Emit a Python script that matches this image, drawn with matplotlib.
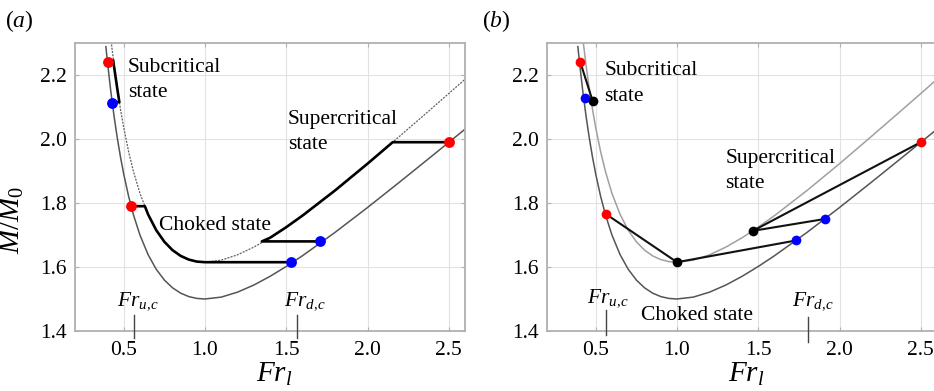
import matplotlib
matplotlib.use("Agg")
import matplotlib.pyplot as plt

plt.rcParams['font.family'] = ['Liberation Serif', 'DejaVu Serif']
plt.rcParams['mathtext.fontset'] = 'custom'
plt.rcParams['mathtext.rm'] = 'Liberation Serif'
plt.rcParams['mathtext.it'] = 'Liberation Serif:italic'
plt.rcParams['mathtext.bf'] = 'Liberation Serif:bold'

# ---- data ----
lower_x = [0.39, 0.40, 0.42, 0.44, 0.46, 0.48, 0.50, 0.53, 0.56, 0.60, 0.65, 0.70, 0.75,
           0.80, 0.85, 0.90, 0.95, 1.00, 1.10, 1.20, 1.30, 1.40, 1.50, 1.60, 1.80, 2.00,
           2.20, 2.40, 2.60]
lower_y = [2.2886, 2.2394, 2.1505, 2.0726, 2.0040, 1.9435, 1.8899, 1.8207, 1.7627, 1.6994,
           1.6384, 1.5928, 1.5592, 1.5350, 1.5183, 1.5076, 1.5018, 1.5000, 1.5059, 1.5214,
           1.5435, 1.5707, 1.6016, 1.6352, 1.7081, 1.7858, 1.8664, 1.9483, 2.0307]
upper_x = [0.42, 0.44, 0.46, 0.48, 0.50, 0.53, 0.56, 0.60, 0.65, 0.70, 0.75, 0.80, 0.85,
           0.90, 0.95, 1.00, 1.10, 1.20, 1.30, 1.40, 1.50, 1.60, 1.80, 2.00, 2.20, 2.40, 2.60]
upper_y = [2.3154, 2.2316, 2.1577, 2.0926, 2.0349, 1.9603, 1.8979, 1.8297, 1.7641, 1.7150,
           1.6788, 1.6527, 1.6348, 1.6232, 1.6169, 1.6150, 1.6214, 1.6381, 1.6619, 1.6912,
           1.7244, 1.7606, 1.8391, 1.9228, 2.0096, 2.0977, 2.1865]

# panel (a) state paths
sub_a_x = [0.435, 0.46, 0.473, 0.43]
sub_a_y = [2.245, 2.1577, 2.115, 2.115]
chk_a_x = [0.545, 0.63, 0.65, 0.70, 0.75, 0.80, 0.85, 0.90, 0.95, 1.00, 1.53]
chk_a_y = [1.79, 1.79, 1.7641, 1.7150, 1.6788, 1.6527, 1.6348, 1.6232, 1.6169, 1.615, 1.615]
sup_a_x = [1.71, 1.35, 1.40, 1.50, 1.60, 1.80, 2.00, 2.155, 2.50]
sup_a_y = [1.68, 1.68, 1.6912, 1.7244, 1.7606, 1.8391, 1.9228, 1.99, 1.99]
red_a_x = [0.40, 0.545, 2.50]
red_a_y = [2.24, 1.79, 1.99]
blue_a_x = [0.43, 1.53, 1.71]
blue_a_y = [2.113, 1.615, 1.68]

# panel (b) state paths
sub_b_x = [0.405, 0.48, 0.431]
sub_b_y = [2.24, 2.12, 2.129]
chk_b_x = [0.564, 1.0, 1.734]
chk_b_y = [1.765, 1.615, 1.683]
sup_b_x = [2.50, 1.467, 1.909]
sup_b_y = [1.99, 1.713, 1.75]
red_b_x = [0.405, 0.564, 2.50]
red_b_y = [2.24, 1.765, 1.99]
blue_b_x = [0.431, 1.734, 1.909]
blue_b_y = [2.129, 1.683, 1.75]
black_b_x = [0.48, 1.0, 1.467]
black_b_y = [2.12, 1.615, 1.713]

xticks = [0.5, 1.0, 1.5, 2.0, 2.5]
yticks = [1.4, 1.6, 1.8, 2.0, 2.2]

texts_a = [("Subcritical", 0.526, 2.21), ("state", 0.526, 2.13),
           ("Supercritical", 1.51, 2.047), ("state", 1.51, 1.97),
           ("Choked state", 0.717, 1.716)]
texts_b = [("Subcritical", 0.554, 2.20), ("state", 0.554, 2.12),
           ("Supercritical", 1.298, 1.925), ("state", 1.298, 1.847),
           ("Choked state", 0.776, 1.434)]
crit_a = [(r'$Fr_{u,\!c}$', 0.46, 1.48, 0.563, 1.378, 1.45),
          (r'$Fr_{d,\!c}$', 1.486, 1.48, 1.566, 1.378, 1.45)]
crit_b = [(r'$Fr_{u,\!c}$', 0.447, 1.49, 0.56, 1.388, 1.465),
          (r'$Fr_{d,\!c}$', 1.707, 1.48, 1.805, 1.367, 1.445)]

W, H = 934, 391
fig = plt.figure(figsize=(W / 100, H / 100), dpi=100)
axw = 390 / W
axh = 288 / H
axb = (H - 331) / H
ax_a = fig.add_axes([75 / W, axb, axw, axh])
ax_b = fig.add_axes([547 / W, axb, axw, axh])

spine_c = '#b0b0b0'


def style(ax):
    ax.set_xlim(0.2, 2.6)
    ax.set_ylim(1.4, 2.3)
    ax.set_xticks(xticks)
    ax.set_yticks(yticks)
    ax.set_xticklabels([f"{v:.1f}" for v in xticks])
    ax.set_yticklabels([f"{v:.1f}" for v in yticks])
    ax.grid(True, color='#e2e2e2', lw=0.8, zorder=0)
    ax.set_axisbelow(True)
    for s in ax.spines.values():
        s.set_color(spine_c)
        s.set_linewidth(1.3)
    ax.tick_params(direction='in', length=3, width=0.8, color=spine_c,
                   top=True, right=True, labelsize=15.5)
    ax.tick_params(axis='x', pad=7)
    ax.tick_params(axis='y', pad=6)
    ax.set_xlabel(r'$Fr_l$', fontsize=21)
    ax.xaxis.set_label_coords(0.51, -0.105)


for ax in (ax_a, ax_b):
    style(ax)

# ---- panel (a) ----
ax_a.plot(lower_x, lower_y, color='#555555', lw=1.1, zorder=2)
ax_a.plot(upper_x, upper_y, color='#606060', lw=0.9, ls=(0, (1.6, 1.0)), zorder=2)
for px, py in ((sub_a_x, sub_a_y), (chk_a_x, chk_a_y), (sup_a_x, sup_a_y)):
    ax_a.plot(px, py, color='black', lw=1.9, zorder=3, solid_joinstyle='round')
ax_a.plot(red_a_x, red_a_y, 'o', color='#ff0000', ms=7.8, mew=0, zorder=4)
ax_a.plot(blue_a_x, blue_a_y, 'o', color='#0000ff', ms=7.8, mew=0, zorder=4)
for s, x, y in texts_a:
    ax_a.text(x, y, s, fontsize=15.5, va='baseline', ha='left', zorder=5)
for s, x, y, lx, ly0, ly1 in crit_a:
    ax_a.text(x, y, s, fontsize=15.5, va='baseline', ha='left')
    ax_a.plot([lx, lx], [ly0, ly1], color='#444444', lw=1.0, clip_on=False, zorder=3)
ax_a.set_ylabel(r'$M/M_0$', fontsize=21)
ax_a.yaxis.set_label_coords(-0.125, 0.385)

# ---- panel (b) ----
ax_b.plot(lower_x, lower_y, color='#555555', lw=1.1, zorder=2)
ax_b.plot(upper_x, upper_y, color='#a0a0a0', lw=1.1, zorder=2)
for px, py in ((sub_b_x, sub_b_y), (chk_b_x, chk_b_y), (sup_b_x, sup_b_y)):
    ax_b.plot(px, py, color='#111111', lw=1.5, zorder=3)
ax_b.plot(red_b_x, red_b_y, 'o', color='#ff0000', ms=7, mew=0, zorder=4)
ax_b.plot(blue_b_x, blue_b_y, 'o', color='#0000ff', ms=7, mew=0, zorder=4)
ax_b.plot(black_b_x, black_b_y, 'o', color='black', ms=7, mew=0, zorder=4)
for s, x, y in texts_b:
    ax_b.text(x, y, s, fontsize=15.5, va='baseline', ha='left', zorder=5)
for s, x, y, lx, ly0, ly1 in crit_b:
    ax_b.text(x, y, s, fontsize=15.5, va='baseline', ha='left')
    ax_b.plot([lx, lx], [ly0, ly1], color='#444444', lw=1.0, clip_on=False, zorder=3)

fig.text(5 / W, 1 - 27 / H, r'($a$)', fontsize=17, va='baseline', ha='left')
fig.text(482 / W, 1 - 27 / H, r'($b$)', fontsize=17, va='baseline', ha='left')

fig.savefig('out.png', dpi=100)
